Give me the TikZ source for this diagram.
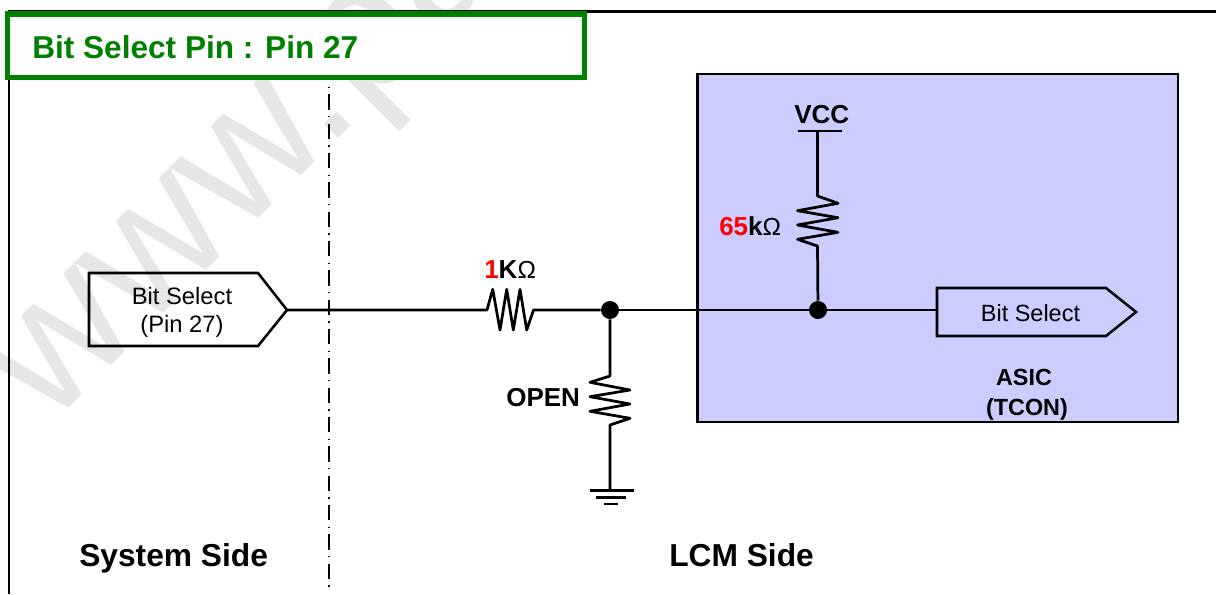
\documentclass[tikz,border=0pt]{standalone}
\usepackage{fontspec}
\setmainfont{Liberation Sans}
\definecolor{wmgray}{HTML}{E6E6E6}
\definecolor{hdrgreen}{HTML}{008000}
\definecolor{asicblue}{HTML}{CCCCFF}
\newcommand{\fsz}[1]{\fontsize{#1}{#1}\selectfont}
\tikzset{
  wire/.style={line width=2.05pt,line join=round},
  thinbox/.style={line width=1.9pt,line join=miter},
  lbl/.style={inner sep=0pt,align=center,text=black},
  boldlbl/.style={lbl,font=\bfseries},
  dotj/.style={circle,fill=black,draw=none,minimum size=13.5pt,inner sep=0pt}
}
\begin{document}
\begin{tikzpicture}[x=0.75pt,y=-0.75pt]
\useasboundingbox (0,0) rectangle (1216,594);
\fill[white] (0,0) rectangle (1216,594);
% watermark
\node[anchor=base west,inner sep=0pt,rotate=45,text=wmgray,font=\fsz{139.5pt}] (wm) at (49,428) {www.pa};
% frame
\draw[line width=2pt] (9,594) -- (9,11.5) -- (1216,11.5);
% divider
\draw[line width=1.3pt,dash pattern=on 11.5pt off 4.7pt on 1.1pt off 4.7pt] (329,65) -- (329,587);
% header
\node[draw=hdrgreen,line width=3.8pt,fill=white,outer sep=0pt,minimum width=432.5pt,minimum height=47.6pt,inner sep=0pt,anchor=north west] (hdr) at (7.5,14) {};
\node[anchor=base west,inner sep=0pt,text=hdrgreen,font=\bfseries\fsz{23.7pt}] (hdrt) at (32,58) {Bit Select Pin : Pin 27};
% ASIC
\node[draw=black,fill=asicblue,line width=1.8pt,outer sep=0pt,minimum width=360.5pt,minimum height=261pt,inner sep=0pt,anchor=north west] (asic) at (697.5,74) {};
% left pentagon
\coordinate (lp) at (287,310);
\draw[thinbox] (89,273) -- (258,273) -- (lp) -- (258,346) -- (89,346) -- cycle;
\node[lbl,font=\fontsize{17.8pt}{21pt}\selectfont] (ltext) at (182,312) {Bit Select\\(Pin 27)};
% right pentagon
\coordinate (rpi) at (937,310);
\draw[thinbox,fill=asicblue] (937,288) -- (1106,288) -- (1136,312) -- (1106,336) -- (937,336) -- cycle;
\node[lbl,font=\fsz{17.6pt}] (rtext) at (1030.5,313) {Bit Select};
% junctions
\node[dotj] (j1) at (610,310) {};
\node[dotj] (j2) at (818,310) {};
% 1K resistor
\coordinate (r1a) at (487,310);
\coordinate (r1b) at (533.5,310);
\draw[wire] (lp) -- (r1a) -- (492.7,289.3) -- (500,330) -- (506.7,289.3) -- (513.3,330) -- (520,289.3) -- (526.7,330) -- (r1b) -- (j1);
\draw[wire] (j1) -- (j2) -- (rpi);
% OPEN resistor
\coordinate (r2a) at (610,376);
\coordinate (r2b) at (610,425);
\coordinate (gnd) at (610,490.5);
\draw[wire] (j1) -- (r2a) -- (590,382.3) -- (630,390) -- (590,396.7) -- (630,404) -- (590,411.3) -- (630,418.3) -- (r2b) -- (gnd);
\draw[wire] (590,490.5) -- (634,490.5);
\draw[wire] (596,497.5) -- (626,497.5);
\draw[wire] (604,504) -- (618,504);
% 65k resistor
\coordinate (vcc) at (817.5,131);
\coordinate (r3a) at (817.5,196);
\coordinate (r3b) at (817.5,246);
\draw[wire] (vcc) -- (r3a) -- (838,203.3) -- (797.5,210.7) -- (838,217.7) -- (797.5,225) -- (838,232.3) -- (797.5,239.3) -- (r3b) -- (j2);
\draw[wire] (798,131) -- (842,131);
% labels
\node[boldlbl,font=\bfseries\fsz{19.5pt},anchor=base west] (vcct) at (794,123) {VCC};
\node[boldlbl,font=\bfseries\fsz{19.5pt},anchor=base west] (opent) at (506,406) {OPEN};
\node[boldlbl,font=\bfseries\fsz{19.5pt},anchor=base west] (r1t) at (484,278) {\textcolor{red}{1}K{\mdseries\fsz{18.5pt}Ω}};
\node[boldlbl,font=\bfseries\fsz{19.5pt},anchor=base west] (r3t) at (719,235) {\textcolor{red}{65}k{\mdseries\fsz{18.5pt}Ω}};
\node[boldlbl,font=\bfseries\fsz{17.5pt},anchor=base] (asict) at (1024,385) {ASIC};
\node[boldlbl,font=\bfseries\fsz{17.5pt},anchor=base] (tcont) at (1027,415) {(TCON)};
\node[boldlbl,font=\bfseries\fsz{23.8pt},anchor=base west] (syst) at (79,566) {System Side};
\node[boldlbl,font=\bfseries\fsz{23.8pt},anchor=base west] (lcmt) at (669,566) {LCM Side};
\end{tikzpicture}
\end{document}
